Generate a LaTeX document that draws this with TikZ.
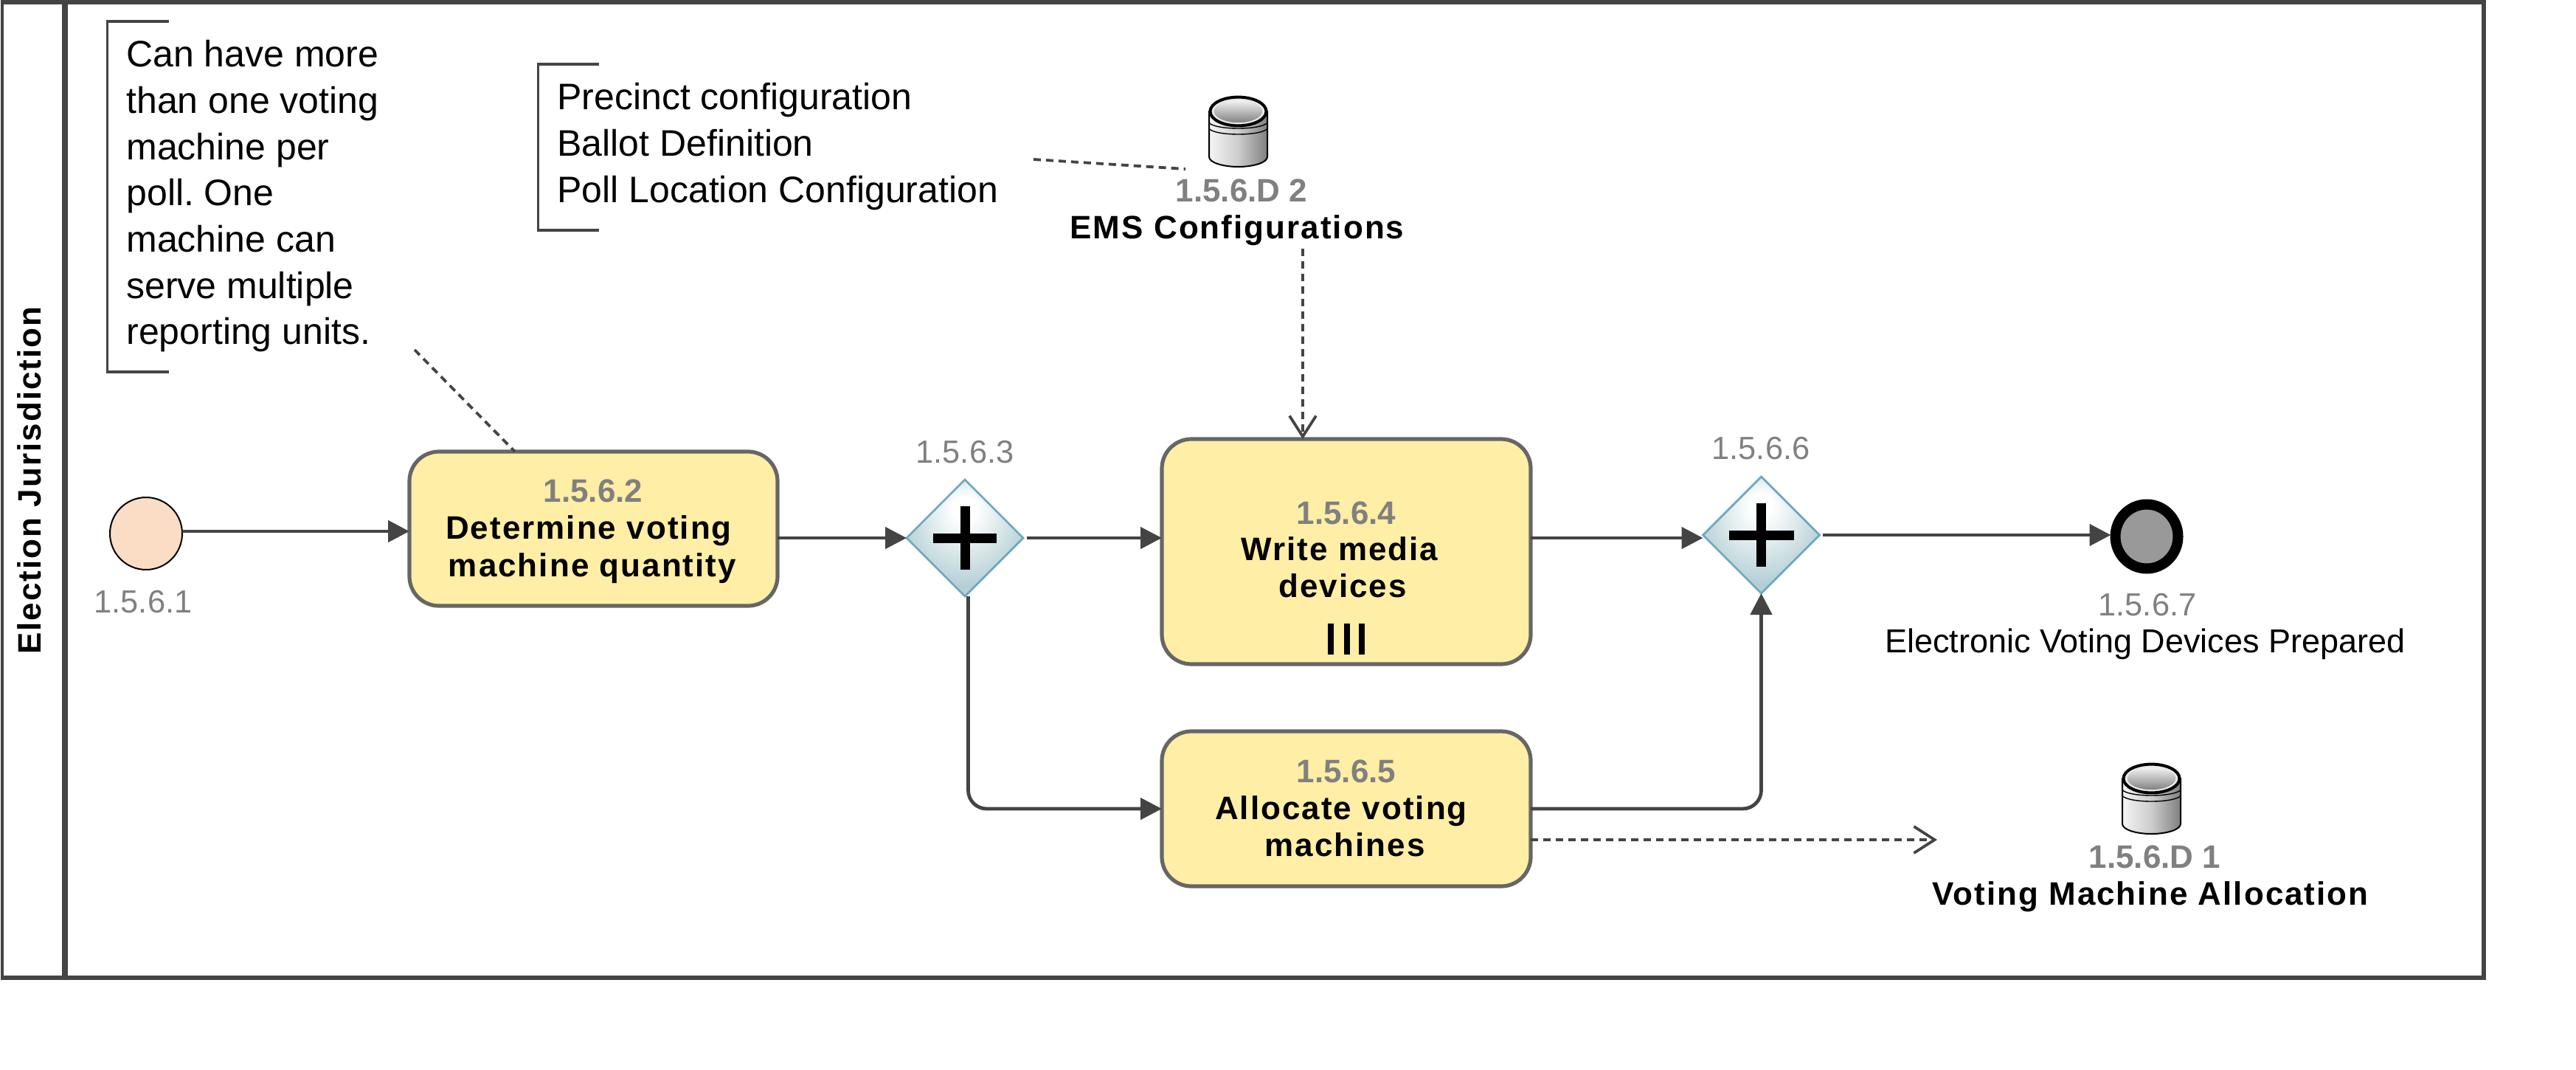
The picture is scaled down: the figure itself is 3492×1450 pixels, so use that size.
\documentclass[tikz,border=0pt]{standalone}
\usepackage{fontspec}
\setmainfont{Liberation Sans}
\newfontfamily\spb[LetterSpace=4.6]{Liberation Sans Bold}
\newfontfamily\plb{Liberation Sans Bold}
\usetikzlibrary{arrows.meta,shapes.geometric,calc}
\definecolor{ink}{HTML}{444444}
\definecolor{idgray}{HTML}{808080}
\definecolor{taskfill}{HTML}{FFEEA5}
\definecolor{taskline}{HTML}{666666}
\definecolor{gwline}{HTML}{6FA8C0}
\definecolor{gwdark}{HTML}{B5D0D5}
\pgfdeclareradialshading{gwshade}{\pgfpoint{0bp}{14bp}}{color(0bp)=(white); color(5bp)=(white); color(27bp)=(gwdark); color(50bp)=(gwdark)}
\tikzset{
  taskbox/.style={draw=taskline,fill=taskfill,line width=2.6pt,rounded corners=20pt,inner sep=0pt,outer sep=0pt,minimum width=#1},
  gateway/.style={diamond,aspect=1,shading=gwshade,draw=gwline,line width=1.4pt,inner sep=0pt,outer sep=0pt,minimum width=79pt,minimum height=79pt},
  plusmark/.style={line width=6.5pt,black},
  flow/.style={draw=ink,line width=2.4pt,-{Triangle[length=14.5pt,width=14.5pt]}},
  assoc/.style={draw=ink,line width=1.9pt,dash pattern=on 5pt off 3.5pt},
  dep/.style={assoc,-{Straight Barb[length=14pt,width=18pt,line width=1.9pt]}},
  bracket/.style={draw=ink,line width=1.9pt},
  idsm/.style={anchor=base,inner sep=0pt,text=idgray,font=\fontsize{21.7}{25}\selectfont},
  idbd/.style={anchor=base,inner sep=0pt,text=idgray,font=\fontsize{22}{25}\selectfont\plb},
  namebd/.style={anchor=base,inner sep=0pt,text=black,font=\fontsize{22}{25}\selectfont\spb},
  namesm/.style={anchor=base,inner sep=0pt,text=black,font=\fontsize{22.5}{25}\selectfont},
  notetext/.style={anchor=north west,inner sep=0pt,align=left,text=black,font=\fontsize{25}{31.35}\selectfont\frenchspacing},
  dbcyl/.pic={
    \path[draw=black,line width=1pt,left color=white!92!gray,right color=black!50!white,middle color=black!20!white]
      (-39.5,-27.5) -- (-39.5,34) .. controls (-39.5,42) and (-20,47.5) .. (0,47.5) .. controls (20,47.5) and (39.5,42) .. (39.5,34) -- (39.5,-27.5) -- cycle;
    \draw[black,line width=0.7pt] (-39.5,-12) .. controls (-30,-2) and (30,-2) .. (39.5,-12);
    \draw[black,line width=0.7pt] (-39.5,-4) .. controls (-30,6) and (30,6) .. (39.5,-4);
    \path[draw=black,line width=2pt,fill=white!85!gray] (0,-27.5) ellipse [x radius=19pt,y radius=9.7pt];
    \path[draw=white!80!gray,line width=.4pt,top color=white!92!gray,bottom color=black!50!white] (0,-27.5) ellipse [x radius=16.6pt,y radius=7.8pt];
  }
}
\begin{document}
\begin{tikzpicture}[x=0.5pt,y=-0.5pt]
\useasboundingbox (0,0) rectangle (3492,1450);
% frame
\draw[ink,line width=3.4pt,line cap=rect] (4,3) -- (3367,3) -- (3367,1325) -- (4,1325);
\draw[ink,line width=2.2pt] (3,2) -- (3,1326);
\draw[ink,line width=4pt] (87.5,3) -- (87.5,1325);
\node[rotate=90,anchor=base,inner sep=0pt,font=\fontsize{22}{25}\selectfont\spb] (pool) at (55,651) {Election Jurisdiction};
% annotations
\draw[bracket] (229,29) -- (145.5,29) -- (145.5,504) -- (229,504);
\node[notetext] (n1) at (171,54) {Can have more\\than one voting\\machine per\\poll. One\\machine can\\serve multiple\\reporting units.};
\draw[bracket] (812,87) -- (729.5,87) -- (729.5,312) -- (812,312);
\node[notetext] (n2) at (755,112) {Precinct configuration\\Ballot Definition\\Poll Location Configuration};
% events
\node[ellipse,draw=black,line width=1pt,fill={rgb,255:red,251;green,221;blue,198},minimum width=49pt,minimum height=49pt,inner sep=0pt,outer sep=0pt] (s) at (198,723) {};
\node[idsm] (ids) at (194,830) {1.5.6.1};
\node[ellipse,draw=black,line width=7pt,fill={rgb,255:red,153;green,153;blue,153},minimum width=42.5pt,minimum height=43.5pt,inner sep=0pt,outer sep=0pt] (e) at (2910,727) {};
\node[idsm] (ide) at (2911,834) {1.5.6.7};
\node[namesm] (ne) at (2908,884) {Electronic Voting Devices Prepared};
% tasks
\node[taskbox=249.5pt,minimum height=104.5pt] (t1) at (804.5,716.5) {};
\node[idbd] (id2) at (804,680) {1.5.6.2};
\node[namebd] (a2) at (798,730) {Determine voting};
\node[namebd] (b2) at (803,781) {machine quantity};
\node[taskbox=250pt,minimum height=152.5pt] (t4) at (1825,747.5) {};
\node[idbd] (id4) at (1825,710) {1.5.6.4};
\node[namebd] (a4) at (1816,759) {Write media};
\node[namebd] (b4) at (1820,809) {devices};
\draw[black,line width=4.3pt] (1804,845) -- (1804,887) (1826,845) -- (1826,887) (1846,845) -- (1846,887);
\node[taskbox=250pt,minimum height=105pt] (t5) at (1825,1096) {};
\node[idbd] (id5) at (1825,1060) {1.5.6.5};
\node[namebd] (a5) at (1818,1110) {Allocate voting};
\node[namebd] (b5) at (1823,1160) {machines};
% gateways
\node[gateway] (g1) at (1308,729) {};
\draw[plusmark] (g1.center) +(-43,0) -- +(43,0) (g1.center) +(0,-43) -- +(0,43);
\node[idsm] (idg1) at (1308,627) {1.5.6.3};
\node[gateway] (g2) at (2387.5,725) {};
\draw[plusmark] (g2.center) +(-44,0) -- +(44,0) (g2.center) +(0,-43) -- +(0,43);
\node[idsm] (idg2) at (2387,622) {1.5.6.6};
% data stores
\pic at (1678.5,178.5) {dbcyl};
\node[idbd] (idd2) at (1683,273) {1.5.6.D 2};
\node[namebd] (ems) at (1677,323) {EMS Configurations};
\pic at (2916.5,1082.5) {dbcyl};
\node[idbd] (idd1) at (2921,1176) {1.5.6.D 1};
\node[namebd] (vma) at (2915,1226) {Voting Machine Allocation};
% free connector ends
\coordinate (n1a) at (562,474);
\coordinate (n1b) at (698,612);
\coordinate (n2a) at (1401,216);
\coordinate (n2b) at (1607,229);
\coordinate (depa) at (1766,337);
\coordinate (depb) at (2626,1138);
% connectors
\draw[flow] ([yshift=1.5pt]s.east) -- ([yshift=1.5pt]s.east -| t1.west);
\draw[flow] (t1.east |- g1.west) -- (g1.west);
\draw[flow,shorten <=2.5pt] (g1.east) -- (g1.east -| t4.west);
\draw[flow] (t4.east |- g1.east) -- (g1.east -| g2.west);
\draw[flow,rounded corners=12.5pt] ([xshift=2.25pt]g1.south) |- (t5.west);
\draw[flow,rounded corners=12.5pt] (t5.east) -| (g2.south);
\draw[flow,shorten <=2pt] (g2.east) -- ([xshift=-3pt]g2.east -| e.west);
\draw[assoc] (n1a) -- (n1b);
\draw[assoc] (n2a) -- (n2b);
\draw[dep] (depa) -- (depa |- t4.north);
\draw[dep] (depb -| t5.east) -- (depb);
\end{tikzpicture}
\end{document}
